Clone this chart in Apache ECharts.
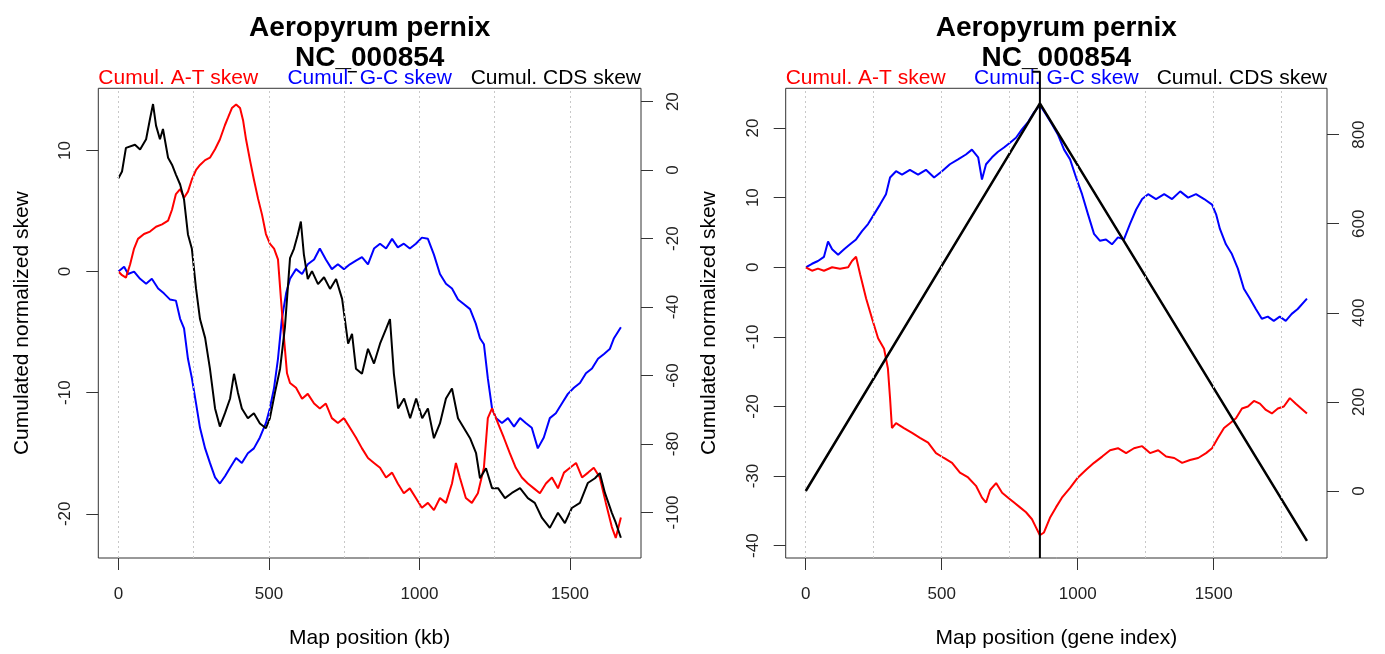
<!DOCTYPE html>
<html lang="en">
<head>
<meta charset="utf-8">
<title>Aeropyrum pernix NC_000854</title>
<script src="https://cdn.jsdelivr.net/npm/echarts@6/dist/echarts.min.js"></script>
<style>
  html, body { margin: 0; padding: 0; background: #fff; }
  #chart { width: 1385px; height: 654px; }
</style>
</head>
<body>
<div id="chart"></div>
<script>
// ---- left panel: map position in kb ----
var atKbPos = [0,12,25,39,52,65,85,105,125,145,165,178,191,205,218,231,244,258,271,288,304,321,337,354,364,377,391,404,414,424,437,450,464,477,490,503,517,530,540,550,560,570,590,610,629,650,669,689,709,729,749,769,789,809,829,849,869,889,909,928,948,968,988,1008,1028,1048,1068,1088,1108,1121,1134,1154,1174,1194,1214,1227,1241,1254,1267,1280,1300,1320,1340,1360,1380,1400,1420,1440,1460,1480,1500,1520,1540,1560,1579,1599,1619,1639,1652,1669];
var atKbVal = [0,-0.3,-0.5,0.6,1.9,2.7,3.1,3.3,3.7,3.9,4.2,5.1,6.4,6.8,6.1,6.6,7.6,8.4,8.8,9.2,9.4,10.1,10.9,12.1,12.7,13.5,13.8,13.5,12.5,10.9,9.2,7.6,6.0,4.7,3.1,2.3,1.9,1.0,-2.3,-5.5,-8.4,-9.2,-9.6,-10.5,-10.1,-10.9,-11.3,-10.9,-12.1,-12.5,-12.1,-12.9,-13.7,-14.6,-15.4,-15.8,-16.2,-17.0,-16.6,-17.5,-18.3,-17.9,-18.7,-19.5,-19.1,-19.7,-18.7,-19.1,-17.5,-15.8,-17.0,-18.7,-19.1,-18.3,-16.2,-12.1,-11.3,-12.1,-12.9,-13.7,-15.0,-16.2,-17.0,-17.5,-17.9,-18.3,-17.5,-17.0,-17.9,-16.6,-16.2,-15.8,-17.0,-16.6,-16.2,-17.0,-19.1,-21.1,-22.0,-20.3];

var gcKbPos = [0,19,32,52,72,92,111,132,151,171,191,205,218,231,244,258,271,288,304,321,337,354,371,391,410,430,450,470,490,503,517,530,543,557,570,590,610,629,650,669,689,709,729,749,769,789,809,829,849,869,889,909,928,948,968,988,1008,1028,1048,1068,1088,1108,1128,1148,1168,1187,1201,1214,1227,1241,1254,1274,1294,1314,1334,1353,1373,1393,1413,1433,1453,1473,1493,1513,1533,1553,1573,1593,1613,1632,1646,1669];
var gcKbVal = [0,0.4,-0.2,0,-0.6,-1,-0.6,-1.4,-1.8,-2.3,-2.4,-3.9,-4.7,-7.2,-8.8,-10.9,-12.9,-14.6,-15.8,-17,-17.5,-16.9,-16.2,-15.4,-15.8,-15,-14.6,-13.7,-12.5,-11.3,-9.6,-7.2,-3.9,-1.8,-0.6,0.2,-0.2,0.6,1,1.9,1,0.2,0.6,0.2,0.6,0.9,1.2,0.6,1.9,2.3,1.9,2.7,2,2.3,1.9,2.3,2.8,2.7,1.4,-0.2,-1,-1.4,-2.3,-2.7,-3.1,-4.3,-5.5,-6,-8.8,-11.3,-12.1,-12.5,-12.1,-12.8,-12.1,-12.5,-12.9,-14.6,-13.7,-12.1,-11.7,-10.9,-10.1,-9.6,-9.2,-8.4,-8,-7.2,-6.8,-6.4,-5.5,-4.6];

var cdsKbPos = [0,12,25,55,72,92,105,115,125,138,148,165,178,191,205,218,231,244,258,271,288,304,321,337,354,371,384,397,410,430,450,470,490,503,520,537,553,570,583,596,606,616,629,643,663,683,703,723,743,763,776,789,809,829,849,869,889,902,915,929,949,969,989,1009,1028,1048,1068,1088,1108,1128,1148,1168,1188,1201,1221,1241,1261,1284,1307,1334,1360,1383,1407,1433,1460,1483,1506,1533,1559,1583,1599,1616,1639,1652,1669];
var cdsKbVal = [-2.4,-0.4,6.5,7.4,6,9,15,19.3,13,9,12,3.6,1.6,-1.3,-4.2,-8.6,-18.8,-23,-34.7,-43.5,-49,-58,-69.6,-74.9,-71,-66.7,-59.5,-65,-69.6,-72.5,-71,-74,-75.4,-72.5,-65,-58,-46,-25.7,-23,-18.8,-15,-24.6,-31.8,-29.5,-33.3,-31.3,-34.7,-31.8,-37.6,-50.7,-47.8,-58,-59.5,-52.2,-56.5,-50.7,-46.4,-43.5,-59.5,-69.6,-66.7,-72.5,-66.7,-72.5,-69.6,-78.3,-74,-66.7,-63.8,-72.5,-75.4,-78.3,-82.7,-90,-87.1,-92.9,-92.9,-95.8,-94.3,-92.9,-95.8,-97.2,-101.6,-104.5,-100.1,-103.1,-98.7,-97.2,-91.4,-90,-88.5,-94.3,-100.1,-103,-107.4];

// ---- right panel: map position as gene index ----
var gcGenePos = [0,23,45,67,82,97,119,141,163,185,207,229,251,273,295,310,332,354,383,413,442,472,501,530,560,589,611,634,648,663,685,707,729,751,773,795,818,840,861,884,906,928,950,972,994,1016,1038,1060,1082,1104,1126,1148,1170,1192,1215,1237,1259,1288,1318,1347,1377,1406,1435,1465,1494,1509,1523,1545,1567,1589,1611,1633,1655,1677,1699,1721,1743,1765,1787,1809,1843];
var gcGeneVal = [0,0.5,0.9,1.5,3.7,2.6,1.8,2.6,3.3,4,5.2,6.2,7.6,9,10.5,12.9,13.8,13.3,14,13.3,14,12.9,13.8,14.8,15.5,16.2,16.9,15.8,12.6,14.8,15.8,16.6,17.2,17.9,18.6,19.8,20.9,22.3,23.3,21.9,20.5,19,16.9,15.5,12.9,10.5,7.6,4.8,3.8,4,3.3,4.3,4,6.2,8.3,9.8,10.5,9.8,10.5,9.8,10.9,10,10.5,9.8,9,7.6,5.5,3.3,1.9,-0.2,-3.1,-4.5,-6,-7.4,-7.1,-7.7,-7.1,-7.7,-6.7,-6,-4.5];

var atGenePos = [0,23,45,67,97,126,156,170,185,200,222,244,266,288,302,310,317,332,361,391,420,450,479,508,538,567,597,626,648,663,678,700,722,744,766,788,810,832,847,861,876,898,920,942,972,1001,1031,1060,1090,1119,1148,1178,1207,1237,1266,1296,1325,1355,1384,1413,1443,1472,1494,1516,1538,1560,1582,1604,1626,1648,1670,1692,1714,1736,1758,1780,1802,1843];
var atGeneVal = [0,-0.5,-0.2,-0.5,0,-0.2,0,0.9,1.5,-1,-4.5,-7.4,-10.2,-11.7,-14.5,-18.8,-23.1,-22.4,-23.1,-23.8,-24.5,-25.2,-26.7,-27.4,-28.1,-29.5,-30.2,-31.4,-33.1,-33.8,-32,-31,-32.4,-33.1,-33.8,-34.5,-35.2,-36.2,-37.4,-38.5,-38.1,-36,-34.5,-33.1,-31.7,-30.2,-29.1,-28.1,-27.2,-26.3,-26,-26.7,-26,-25.7,-26.7,-26.3,-27.2,-27.4,-28.1,-27.7,-27.4,-26.7,-26,-24.5,-23.1,-22.4,-21.7,-20.3,-20,-19.2,-19.6,-20.5,-21,-20.3,-20,-18.8,-19.6,-21];

var cdsGenePos = [0, 861, 1843];
var cdsGeneVal = [0, 870, -112];

// terminus marker (gene index) and small bar above the left panel
var terGene = 861, terBarGene = 833, terTopGene = 28.1;
var markKb = [762, 792], markTopKb = 16.5;

// ticks
var xTicks = [0, 500, 1000, 1500];
var xGridKb = [0, 250, 500, 750, 1000, 1250, 1500];
var xGridGene = [0, 250, 500, 750, 1000, 1250, 1500, 1750];
var yTicksKb = [-20, -10, 0, 10];
var yTicksKbCds = [-100, -80, -60, -40, -20, 0, 20];
var yTicksGene = [-40, -30, -20, -10, 0, 10, 20];
var yTicksGeneCds = [0, 200, 400, 600, 800];

var FONT = 'Liberation Sans, Arial, Helvetica, sans-serif';

function pairs(xs, ys) {
  return xs.map(function (x, i) { return [x, ys[i]]; });
}
function plain(v) { return String(v); }

var chart = echarts.init(document.getElementById('chart'));

function xAxis(gi, min, max, name) {
  return {
    type: 'value', gridIndex: gi, min: min, max: max,
    name: name, nameLocation: 'middle', nameGap: 70,
    nameTextStyle: { fontSize: 21, color: '#000', fontFamily: FONT },
    axisLine: { show: false, onZero: false },
    axisTick: { show: true, customValues: xTicks, length: 12, lineStyle: { color: '#333' } },
    axisLabel: { customValues: xTicks, formatter: plain, margin: 28, fontSize: 17, color: '#222', fontFamily: FONT },
    splitLine: { show: false }
  };
}

function yAxis(gi, pos, min, max, ticks, name) {
  return {
    type: 'value', gridIndex: gi, position: pos, min: min, max: max,
    name: name || '', nameLocation: 'middle', nameGap: 66,
    nameTextStyle: { fontSize: 21, color: '#000', fontFamily: FONT },
    axisLine: { show: false, onZero: false },
    axisTick: { show: true, customValues: ticks, length: 12, lineStyle: { color: '#333' } },
    axisLabel: { customValues: ticks, formatter: plain, rotate: 90, margin: 24, fontSize: 17, color: '#222', fontFamily: FONT },
    splitLine: { show: false }
  };
}

function curve(xi, yi, data, color, width) {
  return {
    type: 'line', xAxisIndex: xi, yAxisIndex: yi, data: data,
    symbol: 'none', silent: true, z: 3,
    lineStyle: { color: color, width: width || 2 }
  };
}

function gridLines(xi, yi, values) {
  return {
    type: 'line', xAxisIndex: xi, yAxisIndex: yi, data: [], silent: true, z: 1,
    markLine: {
      silent: true, symbol: 'none', animation: false,
      label: { show: false },
      lineStyle: { type: [2, 3], color: '#c8c8c8', width: 1 },
      data: values.map(function (v) { return { xAxis: v }; })
    }
  };
}

function mainTitle(cx) {
  return {
    text: 'Aeropyrum pernix\nNC_000854', left: cx, top: 13, padding: 0, textAlign: 'center',
    textStyle: { fontSize: 28, fontWeight: 'bold', lineHeight: 30, color: '#000', fontFamily: FONT }
  };
}

function skewLabel(x, text, color, align) {
  return { type: 'text', x: x, y: 78, style: { text: text, fill: color, font: '21px ' + FONT, align: align, verticalAlign: 'middle' } };
}

var option = {
  animation: false,
  backgroundColor: '#fff',
  title: [mainTitle(369.7), mainTitle(1056.3)],
  graphic: [
    skewLabel(98.3, 'Cumul. A-T skew', '#ff0000', 'left'),
    skewLabel(369.7, 'Cumul. G-C skew', '#0000ff', 'center'),
    skewLabel(641, 'Cumul. CDS skew', '#000000', 'right'),
    skewLabel(785.7, 'Cumul. A-T skew', '#ff0000', 'left'),
    skewLabel(1056.3, 'Cumul. G-C skew', '#0000ff', 'center'),
    skewLabel(1327, 'Cumul. CDS skew', '#000000', 'right')
  ],
  grid: [
    { left: 98.3, top: 88.3, width: 542.7, height: 472.4, show: true, borderColor: '#333', borderWidth: 1, backgroundColor: 'transparent' },
    { left: 785.7, top: 88.3, width: 541.3, height: 472.4, show: true, borderColor: '#333', borderWidth: 1, backgroundColor: 'transparent' }
  ],
  xAxis: [
    xAxis(0, -66.8, 1735.8, 'Map position (kb)'),
    xAxis(1, -73.7, 1916.7, 'Map position (gene index)')
  ],
  yAxis: [
    yAxis(0, 'left', -23.65, 15.13, yTicksKb, 'Cumulated normalized skew'),
    yAxis(0, 'right', -113.3, 23.9, yTicksKbCds),
    yAxis(1, 'left', -41.77, 25.71, yTicksGene, 'Cumulated normalized skew'),
    yAxis(1, 'right', -150.4, 904, yTicksGeneCds)
  ],
  series: [
    gridLines(0, 0, xGridKb),
    gridLines(1, 2, xGridGene),
    curve(0, 0, pairs(gcKbPos, gcKbVal), '#0000ff'),
    curve(0, 0, pairs(atKbPos, atKbVal), '#ff0000'),
    curve(0, 1, pairs(cdsKbPos, cdsKbVal), '#000000'),
    curve(1, 2, pairs(gcGenePos, gcGeneVal), '#0000ff'),
    curve(1, 2, pairs(atGenePos, atGeneVal), '#ff0000'),
    curve(1, 3, pairs(cdsGenePos, cdsGeneVal), '#000000', 2.5),
    // terminus line, running from the box bottom up past the top
    Object.assign(curve(1, 2, [[terGene, -41.77], [terGene, terTopGene], [terBarGene, terTopGene]], '#000000', 2), { clip: false, z: 4 }),
    Object.assign(curve(0, 0, [[markKb[0], markTopKb], [markKb[1], markTopKb]], '#000000', 1.5), { clip: false, z: 4 })
  ]
};

chart.setOption(option);
</script>
</body>
</html>
